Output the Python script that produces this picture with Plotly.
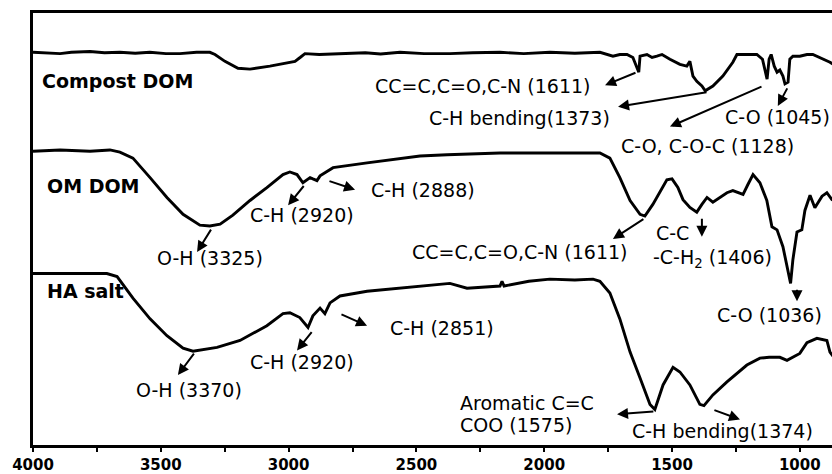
import plotly.graph_objects as go

# ---------------- data (wavenumber cm-1, transmittance a.u.) ----------------
compost_wn = [4000, 3950, 3894, 3850, 3777, 3720, 3660, 3600, 3543, 3480, 3425, 3360, 3308, 3288, 3249,
              3198, 3151, 3073, 2975, 2955, 2936, 2880, 2799, 2700, 2640, 2564, 2470, 2369, 2280, 2173,
              2080, 1978, 1880, 1782, 1731, 1704, 1676, 1653, 1630, 1625, 1598, 1578, 1559, 1539, 1508,
              1469, 1442, 1430, 1418, 1403, 1383, 1370, 1340, 1301, 1262, 1246, 1207, 1168, 1146, 1128,
              1120, 1112, 1100, 1089, 1078, 1066, 1058, 1046, 1039, 1027, 1000, 972, 949, 921, 882, 863]
compost_t = [90.9, 90.8, 90.6, 90.9, 91.1, 90.8, 90.9, 90.7, 90.9, 90.6, 90.6, 90.9, 90.9, 90.4, 88.8,
             87.2, 87.0, 87.7, 88.8, 89.7, 90.6, 90.4, 90.6, 90.8, 90.5, 90.9, 90.6, 90.6, 90.8, 90.9,
             90.6, 90.9, 90.7, 90.9, 90.0, 90.4, 90.4, 89.7, 86.3, 90.0, 90.4, 89.7, 90.0, 90.4, 89.3,
             88.1, 87.7, 88.8, 85.4, 84.2, 83.1, 82.0, 83.1, 85.4, 88.6, 90.4, 90.4, 90.4, 89.3, 84.7,
             89.3, 90.4, 87.7, 86.3, 86.8, 85.4, 83.6, 84.0, 89.3, 90.0, 90.0, 90.4, 90.4, 89.7, 88.6, 87.9]

omdom_wn = [4000, 3894, 3777, 3699, 3660, 3609, 3542, 3476, 3413, 3347, 3308, 3268, 3218, 3151, 3085,
            3022, 2995, 2967, 2944, 2916, 2905, 2889, 2877, 2826, 2693, 2564, 2486, 2380, 2173, 2000,
            1782, 1743, 1704, 1664, 1625, 1606, 1575, 1520, 1500, 1477, 1457, 1430, 1403, 1383, 1363,
            1340, 1312, 1285, 1262, 1222, 1203, 1183, 1156, 1129, 1109, 1089, 1066, 1046, 1036, 1027,
            1011, 992, 980, 960, 941, 913, 894, 874, 859]
omdom_t = [68.0, 68.3, 68.0, 68.3, 67.8, 66.4, 61.9, 57.3, 53.4, 50.9, 50.7, 51.1, 53.2, 56.6, 59.6,
           62.6, 63.2, 62.6, 60.7, 61.9, 61.6, 61.2, 62.3, 64.2, 65.3, 66.4, 66.9, 67.2, 67.6, 67.6,
           67.6, 66.4, 61.9, 56.6, 53.4, 53.0, 55.7, 61.4, 61.6, 59.6, 56.8, 55.0, 53.9, 55.7, 57.3,
           56.2, 57.3, 58.4, 58.9, 58.0, 60.3, 62.6, 60.7, 56.6, 50.5, 49.8, 45.9, 40.0, 37.4, 42.9,
           49.3, 49.8, 54.3, 57.8, 54.9, 57.6, 58.4, 56.8, 56.2]

hasalt_wn = [4000, 3894, 3777, 3711, 3671, 3609, 3542, 3476, 3413, 3374, 3280, 3190, 3085, 3022, 2995,
             2956, 2924, 2905, 2877, 2858, 2838, 2799, 2693, 2564, 2486, 2369, 2302, 2173, 2165, 2157,
             2060, 1978, 1880, 1809, 1782, 1743, 1704, 1664, 1625, 1586, 1567, 1535, 1496, 1469, 1430,
             1391, 1375, 1363, 1340, 1285, 1207, 1156, 1120, 1078, 1050, 1000, 972, 933, 894, 882, 867]
hasalt_t = [39.7, 39.7, 39.7, 39.7, 39.0, 34.0, 29.2, 25.3, 22.4, 21.7, 22.6, 24.2, 27.6, 30.4, 30.6,
            29.5, 27.2, 29.9, 31.7, 30.4, 32.9, 34.5, 35.6, 36.3, 36.8, 37.4, 36.3, 36.8, 37.9, 36.8,
            37.9, 38.4, 38.2, 38.4, 37.9, 35.2, 29.2, 21.5, 15.5, 9.4, 8.2, 13.9, 18.0, 16.9, 13.9,
            9.4, 9.1, 10.0, 11.6, 14.6, 18.5, 20.1, 20.3, 20.3, 19.6, 21.2, 23.7, 24.7, 24.2, 21.5, 20.3]

series_names = ["Compost DOM", "OM DOM", "HA salt"]
series_label_pos = [(3973, 84.2), (3953, 60.0), (3953, 35.6)]

x_tickvals = [4000, 3500, 3000, 2500, 2000, 1500, 1000]

# band labels: (text, wavenumber, transmittance, xanchor)
band_labels = [
    ("CC=C,C=O,C-N (1611)", 2240, 83.1, "center"),
    ("C-H bending(1373)", 2095, 75.8, "center"),
    ("C-O, C-O-C (1128)", 1363, 69.2, "center"),
    ("C-O (1045)", 1089, 76.0, "center"),
    ("C-H (2920)", 2948, 53.2, "center"),
    ("C-H (2888)", 2474, 59.1, "center"),
    ("O-H (3325)", 3308, 43.2, "center"),
    ("CC=C,C=O,C-N (1611)", 2095, 44.7, "center"),
    ("C-C", 1500, 49.1, "center"),
    ("-C-H<sub>2</sub> (1406)", 1340, 43.2, "center"),
    ("C-O (1036)", 1117, 30.1, "center"),
    ("C-H (2920)", 2948, 19.2, "center"),
    ("C-H (2851)", 2400, 27.2, "center"),
    ("O-H (3370)", 3390, 12.8, "center"),
    ("Aromatic C=C", 2337, 9.8, "left"),
    ("COO (1575)", 2337, 4.6, "left"),
    ("C-H bending(1374)", 1665, 3.2, "left"),
]

# arrows: (tail wn, tail T, head wn, head T)
arrows = [
    (1637, 86.3, 1762, 83.3),
    (1359, 81.7, 1711, 78.3),
    (1144, 83.1, 1508, 73.7),
    (1046, 82.9, 1086, 78.5),
    (2936, 60.3, 3002, 55.5),
    (2846, 61.2, 2740, 59.1),
    (3300, 50.2, 3358, 44.7),
    (1606, 52.5, 1731, 47.7),
    (1383, 52.7, 1383, 48.2),
    (1011, 36.3, 1011, 33.3),
    (2905, 26.5, 2967, 21.9),
    (2799, 30.4, 2693, 27.6),
    (3366, 21.5, 3433, 16.2),
    (1567, 7.8, 1715, 7.1),
    (1340, 8.2, 1234, 5.9),
]

# ---------------- figure ----------------
fig = go.Figure()
for wn, t, name in [(compost_wn, compost_t, series_names[0]),
                    (omdom_wn, omdom_t, series_names[1]),
                    (hasalt_wn, hasalt_t, series_names[2])]:
    fig.add_trace(go.Scatter(x=wn, y=t, mode="lines", name=name,
                             line=dict(color="black", width=2.9), showlegend=False))

FONT = "DejaVu Sans"
annotations = []
for name, (x, y) in zip(series_names, series_label_pos):
    annotations.append(dict(x=x, y=y, xref="x", yref="y", text=name, showarrow=False,
                            xanchor="left", yanchor="middle",
                            font=dict(family=FONT, size=19, color="black", weight="bold")))
for text, x, y, anc in band_labels:
    annotations.append(dict(x=x, y=y, xref="x", yref="y", text=text, showarrow=False,
                            xanchor=anc, yanchor="middle",
                            font=dict(family=FONT, size=19, color="black")))
for tx, ty, hx, hy in arrows:
    annotations.append(dict(x=hx, y=hy, xref="x", yref="y", ax=tx, ay=ty, axref="x", ayref="y",
                            text="", showarrow=True, arrowhead=2, arrowsize=1.1, arrowwidth=2,
                            arrowcolor="black", standoff=0))

fig.update_layout(
    width=832, height=474,
    margin=dict(l=33, r=0, t=13, b=23),
    paper_bgcolor="white", plot_bgcolor="white",
    annotations=annotations,
    xaxis=dict(range=[4000, 874], tickvals=x_tickvals, ticktext=[str(v) for v in x_tickvals],
               showgrid=False, zeroline=False, showline=True, linecolor="black", linewidth=3,
               mirror=True, ticks="outside", ticklen=4, tickwidth=2, tickcolor="black",
               minor=dict(dtick=250, tick0=0, ticks="outside", ticklen=4, tickwidth=2, tickcolor="black"),
               tickfont=dict(family=FONT, size=15, color="black", weight="bold")),
    yaxis=dict(range=[0, 100], showgrid=False, zeroline=False, showline=True, linecolor="black",
               linewidth=3, showticklabels=False, ticks=""),
)

fig.write_html("out.html")
